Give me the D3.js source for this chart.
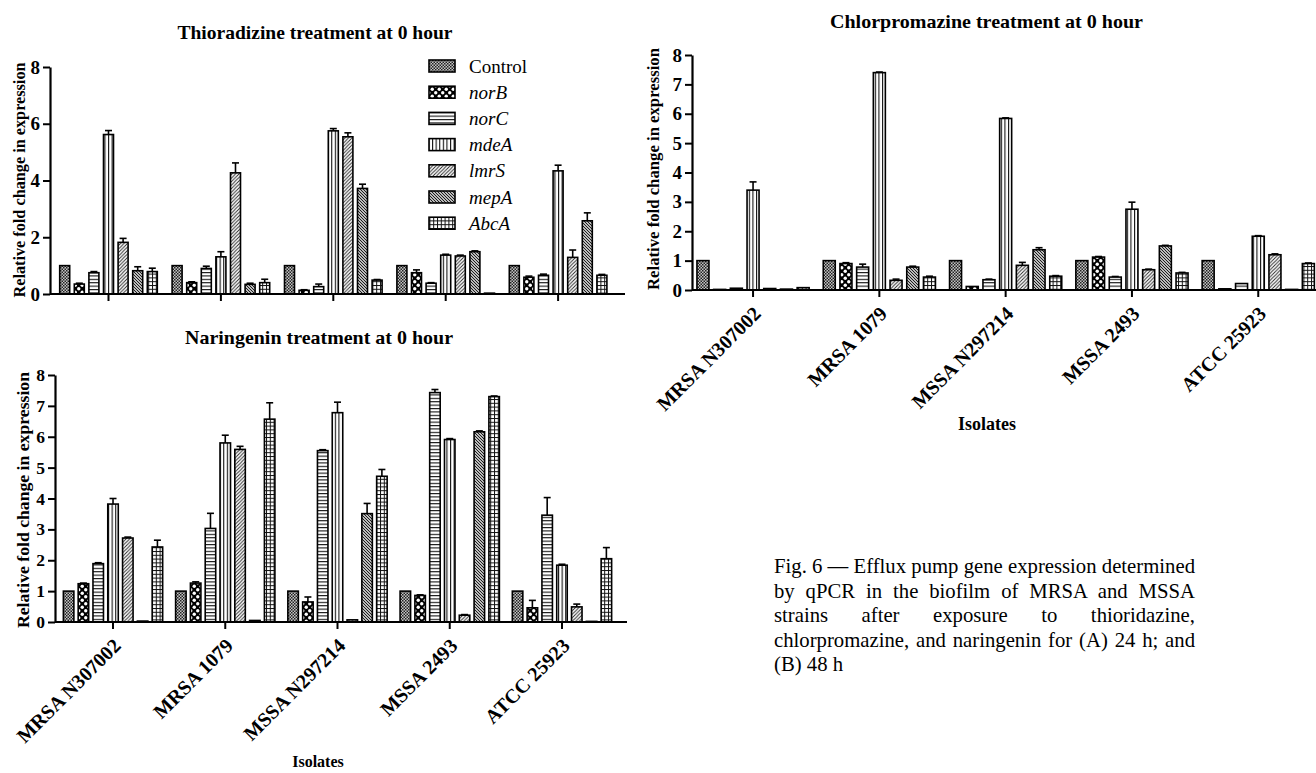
<!DOCTYPE html>
<html><head><meta charset="utf-8">
<script src="https://cdn.jsdelivr.net/npm/d3@7"></script>
<style>
html,body{margin:0;padding:0;background:#fff;}
svg{display:block;}
</style></head>
<body>
<svg id="fig" width="1316" height="773"></svg>
<script>
// ---------------- DATA ----------------
const isolates = ["MRSA N307002", "MRSA 1079", "MSSA N297214", "MSSA 2493", "ATCC 25923"];
const genes = ["Control", "norB", "norC", "mdeA", "lmrS", "mepA", "AbcA"];
const yTicksThio = [0, 2, 4, 6, 8];
const yTicksFull = [0, 1, 2, 3, 4, 5, 6, 7, 8];

// rows = isolates, columns = genes
const thioMeans = [
  [1.00, 0.35, 0.75, 5.62, 1.82, 0.82, 0.79],
  [1.00, 0.40, 0.90, 1.31, 4.27, 0.34, 0.40],
  [1.00, 0.13, 0.26, 5.75, 5.54, 3.72, 0.49],
  [1.00, 0.75, 0.38, 1.37, 1.34, 1.49, 0.03],
  [1.00, 0.59, 0.66, 4.34, 1.29, 2.58, 0.66]
];
const thioErrors = [
  [0, 0.03, 0.04, 0.14, 0.14, 0.14, 0.12],
  [0, 0.03, 0.08, 0.18, 0.35, 0.04, 0.12],
  [0, 0.02, 0.09, 0.08, 0.14, 0.15, 0.02],
  [0, 0.10, 0.02, 0.03, 0.03, 0.03, 0],
  [0, 0.04, 0.04, 0.20, 0.26, 0.28, 0.03]
];

const narMeans = [
  [1.00, 1.24, 1.89, 3.82, 2.72, 0.03, 2.43],
  [1.00, 1.26, 3.03, 5.80, 5.59, 0.05, 6.57],
  [1.00, 0.65, 5.55, 6.78, 0.07, 3.51, 4.72],
  [1.00, 0.86, 7.43, 5.91, 0.22, 6.16, 7.30],
  [1.00, 0.46, 3.46, 1.84, 0.49, 0.02, 2.05]
];
const narErrors = [
  [0, 0.02, 0.03, 0.18, 0.03, 0, 0.22],
  [0, 0.04, 0.49, 0.25, 0.10, 0, 0.53],
  [0, 0.16, 0.03, 0.34, 0, 0.33, 0.22],
  [0, 0.02, 0.10, 0.03, 0.02, 0.03, 0.02],
  [0, 0.24, 0.57, 0.03, 0.09, 0, 0.36]
];

const chlMeans = [
  [1.00, 0.02, 0.06, 3.40, 0.05, 0.03, 0.08],
  [1.00, 0.90, 0.78, 7.40, 0.33, 0.78, 0.44],
  [1.00, 0.12, 0.35, 5.84, 0.84, 1.37, 0.47],
  [1.00, 1.12, 0.44, 2.75, 0.69, 1.50, 0.58],
  [1.00, 0.04, 0.22, 1.83, 1.20, 0.02, 0.90]
];
const chlErrors = [
  [0, 0, 0.01, 0.28, 0, 0, 0.01],
  [0, 0.03, 0.10, 0.02, 0.04, 0.03, 0.03],
  [0, 0.01, 0.02, 0.02, 0.10, 0.07, 0.02],
  [0, 0.02, 0.02, 0.24, 0.02, 0.02, 0.02],
  [0, 0, 0.01, 0.02, 0.03, 0, 0.02]
];

const titles = ["Thioradizine treatment at 0 hour", "Naringenin treatment at 0 hour", "Chlorpromazine treatment at 0 hour"];
const yAxisTitle = "Relative fold change in expression";
const xAxisTitle = "Isolates";
const captionLines = [
  "Fig. 6 \u2014 Efflux pump gene expression determined",
  "by qPCR in the biofilm of MRSA and MSSA",
  "strains after exposure to thioridazine,",
  "chlorpromazine, and naringenin for (A) 24 h; and",
  "(B) 48 h"
];

// ---------------- DRAWING ----------------
const serif = "'Liberation Serif','Times New Roman',serif";
const svg = d3.select("#fig");
svg.append("rect").attr("width", 1316).attr("height", 773).attr("fill", "#fff");

const defs = svg.append("defs");
function pat(id, w, h, bg, draw) {
  const p = defs.append("pattern").attr("id", id)
    .attr("patternUnits", "userSpaceOnUse").attr("width", w).attr("height", h);
  p.append("rect").attr("width", w).attr("height", h).attr("fill", bg);
  draw(p);
}
pat("p-Control", 3, 3, "#c4c4c4", p => {
  p.append("rect").attr("width", 1.5).attr("height", 1.5).attr("fill", "#222");
  p.append("rect").attr("x", 1.5).attr("y", 1.5).attr("width", 1.5).attr("height", 1.5).attr("fill", "#222");
});
pat("p-norB", 7, 7, "#000", p => {
  p.append("circle").attr("cx", 1.75).attr("cy", 1.75).attr("r", 1.7).attr("fill", "#fff");
  p.append("circle").attr("cx", 5.25).attr("cy", 5.25).attr("r", 1.7).attr("fill", "#fff");
});
pat("p-norC", 4, 3.4, "#fff", p => {
  p.append("rect").attr("width", 4).attr("height", 1.1).attr("fill", "#111");
});
pat("p-mdeA", 3.6, 4, "#fff", p => {
  p.append("rect").attr("width", 1.1).attr("height", 4).attr("fill", "#111");
});
pat("p-lmrS", 3.5, 3.5, "#fff", p => {
  p.append("path").attr("d", "M0,3.5 L3.5,0 M-1,1 L1,-1 M2.5,4.5 L4.5,2.5")
    .attr("stroke", "#222").attr("stroke-width", 0.9);
});
pat("p-mepA", 3, 3, "#fff", p => {
  p.append("path").attr("d", "M0,0 L3,3 M-1,2 L1,4 M2,-1 L4,1")
    .attr("stroke", "#111").attr("stroke-width", 1.1);
});
pat("p-AbcA", 3.8, 3.8, "#fff", p => {
  p.append("rect").attr("width", 3.8).attr("height", 1).attr("fill", "#111");
  p.append("rect").attr("width", 1).attr("height", 3.8).attr("fill", "#111");
});

function drawPanel(cfg, means, errs) {
  const g = svg.append("g");
  const y = d3.scaleLinear().domain([0, 8]).range([cfg.y0, cfg.y8]);
  const x0 = d3.scaleBand().domain(isolates).range([cfg.bandL, cfg.bandR]);
  const p = 1 - cfg.barW / cfg.step;
  const x1 = d3.scaleBand().domain(genes).range([-3.5 * cfg.step, 3.5 * cfg.step])
    .paddingInner(p).paddingOuter(p / 2);

  const rows = [];
  isolates.forEach((iso, i) => genes.forEach((gene, j) =>
    rows.push({ iso, gene, v: means[i][j], e: errs[i][j] })));

  const bx = d => x0(d.iso) + x0.bandwidth() / 2 + x1(d.gene);

  const eb = g.append("g").attr("stroke", "#000").attr("stroke-width", 1.6);
  rows.filter(d => d.e > 0.015).forEach(d => {
    const cx = bx(d) + x1.bandwidth() / 2;
    eb.append("line").attr("x1", cx).attr("x2", cx).attr("y1", y(d.v)).attr("y2", y(d.v + d.e));
    eb.append("line").attr("x1", cx - 3.5).attr("x2", cx + 3.5).attr("y1", y(d.v + d.e)).attr("y2", y(d.v + d.e));
  });

  g.append("g").selectAll("rect").data(rows).join("rect")
    .attr("x", bx)
    .attr("y", d => y(d.v))
    .attr("width", x1.bandwidth())
    .attr("height", d => y(0) - y(d.v))
    .attr("fill", d => `url(#p-${d.gene})`)
    .attr("stroke", "#000").attr("stroke-width", 1.6);

  const ya = g.append("g").attr("transform", `translate(${cfg.axisX},0)`)
    .call(d3.axisLeft(y).tickValues(cfg.ticks).tickSize(7).tickSizeOuter(0).tickPadding(3).tickFormat(d3.format("d")));
  ya.attr("font-family", serif);
  ya.select(".domain").attr("stroke-width", 2.2);
  ya.selectAll(".tick line").attr("stroke-width", 2);
  ya.selectAll(".tick text").attr("font-family", serif).attr("font-weight", "bold")
    .attr("font-size", cfg.tickFs).attr("fill", "#000");

  const xa = g.append("g").attr("transform", `translate(0,${cfg.y0})`)
    .call(d3.axisBottom(x0).tickSize(7).tickSizeOuter(0).tickFormat(cfg.labels ? (d => d) : (() => "")));
  xa.attr("font-family", serif);
  xa.select(".domain").remove();
  xa.selectAll(".tick line").attr("stroke-width", 2);
  g.append("line").attr("x1", cfg.axisX).attr("x2", cfg.axisR)
    .attr("y1", cfg.y0).attr("y2", cfg.y0).attr("stroke", "#000").attr("stroke-width", 2.2);
  if (cfg.labels) {
    xa.selectAll(".tick text")
      .attr("x", null).attr("y", null).attr("dy", null)
      .attr("text-anchor", "end")
      .attr("transform", `translate(${cfg.lblDx},${cfg.lblDy}) rotate(-45)`)
      .attr("font-family", serif).attr("font-weight", "bold").attr("font-size", cfg.lblFs).attr("fill", "#000");
    g.append("text").attr("x", cfg.xtX).attr("y", cfg.xtY).attr("text-anchor", "middle")
      .attr("font-family", serif).attr("font-weight", "bold").attr("font-size", cfg.xtFs)
      .text(xAxisTitle);
  }

  g.append("text").attr("x", cfg.titleX).attr("y", cfg.titleY).attr("text-anchor", "middle")
    .attr("font-family", serif).attr("font-weight", "bold").attr("font-size", cfg.titleFs)
    .attr("textLength", cfg.titleLen).attr("lengthAdjust", "spacingAndGlyphs")
    .text(cfg.title);

  g.append("text").attr("transform", `translate(${cfg.ytX},${cfg.ytY}) rotate(-90)`)
    .attr("text-anchor", "middle")
    .attr("font-family", serif).attr("font-weight", "bold").attr("font-size", cfg.ytFs)
    .attr("textLength", cfg.ytLen).attr("lengthAdjust", "spacingAndGlyphs")
    .text(yAxisTitle);
  return g;
}

drawPanel({
  y0: 294, y8: 67, axisX: 50, axisR: 625, bandL: 52.3, bandR: 614.3,
  step: 14.6, barW: 10, ticks: yTicksThio, tickFs: 19, labels: false,
  title: titles[0], titleX: 315, titleY: 39, titleFs: 19, titleLen: 275,
  ytX: 25, ytY: 180, ytFs: 16, ytLen: 235
}, thioMeans, thioErrors);

drawPanel({
  y0: 622, y8: 375, axisX: 55, axisR: 627, bandL: 56.9, bandR: 618.1,
  step: 14.8, barW: 10.5, ticks: yTicksFull, tickFs: 17.5, labels: true,
  lblDx: 9, lblDy: 25, lblFs: 20, xtX: 318, xtY: 767, xtFs: 16,
  title: titles[1], titleX: 319, titleY: 344, titleFs: 19, titleLen: 268,
  ytX: 29, ytY: 500, ytFs: 17, ytLen: 256
}, narMeans, narErrors);

drawPanel({
  y0: 290, y8: 55, axisX: 692, axisR: 1316, bandL: 689.9, bandR: 1321.4,
  step: 16.7, barW: 12, ticks: yTicksFull, tickFs: 19, labels: true,
  lblDx: 9, lblDy: 25, lblFs: 20, xtX: 987, xtY: 430, xtFs: 18,
  title: titles[2], titleX: 986.5, titleY: 28, titleFs: 19, titleLen: 313,
  ytX: 659, ytY: 169, ytFs: 17, ytLen: 242
}, chlMeans, chlErrors);

const leg = svg.append("g");
genes.forEach((gene, i) => {
  const cy = 66 + i * 26.2;
  leg.append("rect").attr("x", 429).attr("y", cy - 6).attr("width", 26).attr("height", 12)
    .attr("fill", `url(#p-${gene})`).attr("stroke", "#000").attr("stroke-width", 1.6);
  leg.append("text").attr("x", 469).attr("y", cy + 6.5)
    .attr("font-family", serif).attr("font-size", 19)
    .attr("font-style", gene === "Control" ? "normal" : "italic")
    .text(gene);
});

const capX = 774, capW = 421;
const tmp = svg.append("text").attr("font-family", serif).attr("font-size", 20).text(captionLines[0]);
const capFs = 20 * capW / tmp.node().getComputedTextLength();
tmp.remove();
const cap = svg.append("g").attr("font-family", serif).attr("font-size", capFs).attr("fill", "#000");
captionLines.forEach((line, i) => {
  const t = cap.append("text").attr("x", capX).attr("y", 573 + i * 24.5).text(line);
  if (i < captionLines.length - 1) {
    const natural = t.node().getComputedTextLength();
    const gaps = line.split(" ").length - 1;
    const extra = (capW - natural) / gaps;
    if (extra > 0.01) t.style("word-spacing", extra + "px");
  }
});
</script>
</body></html>
